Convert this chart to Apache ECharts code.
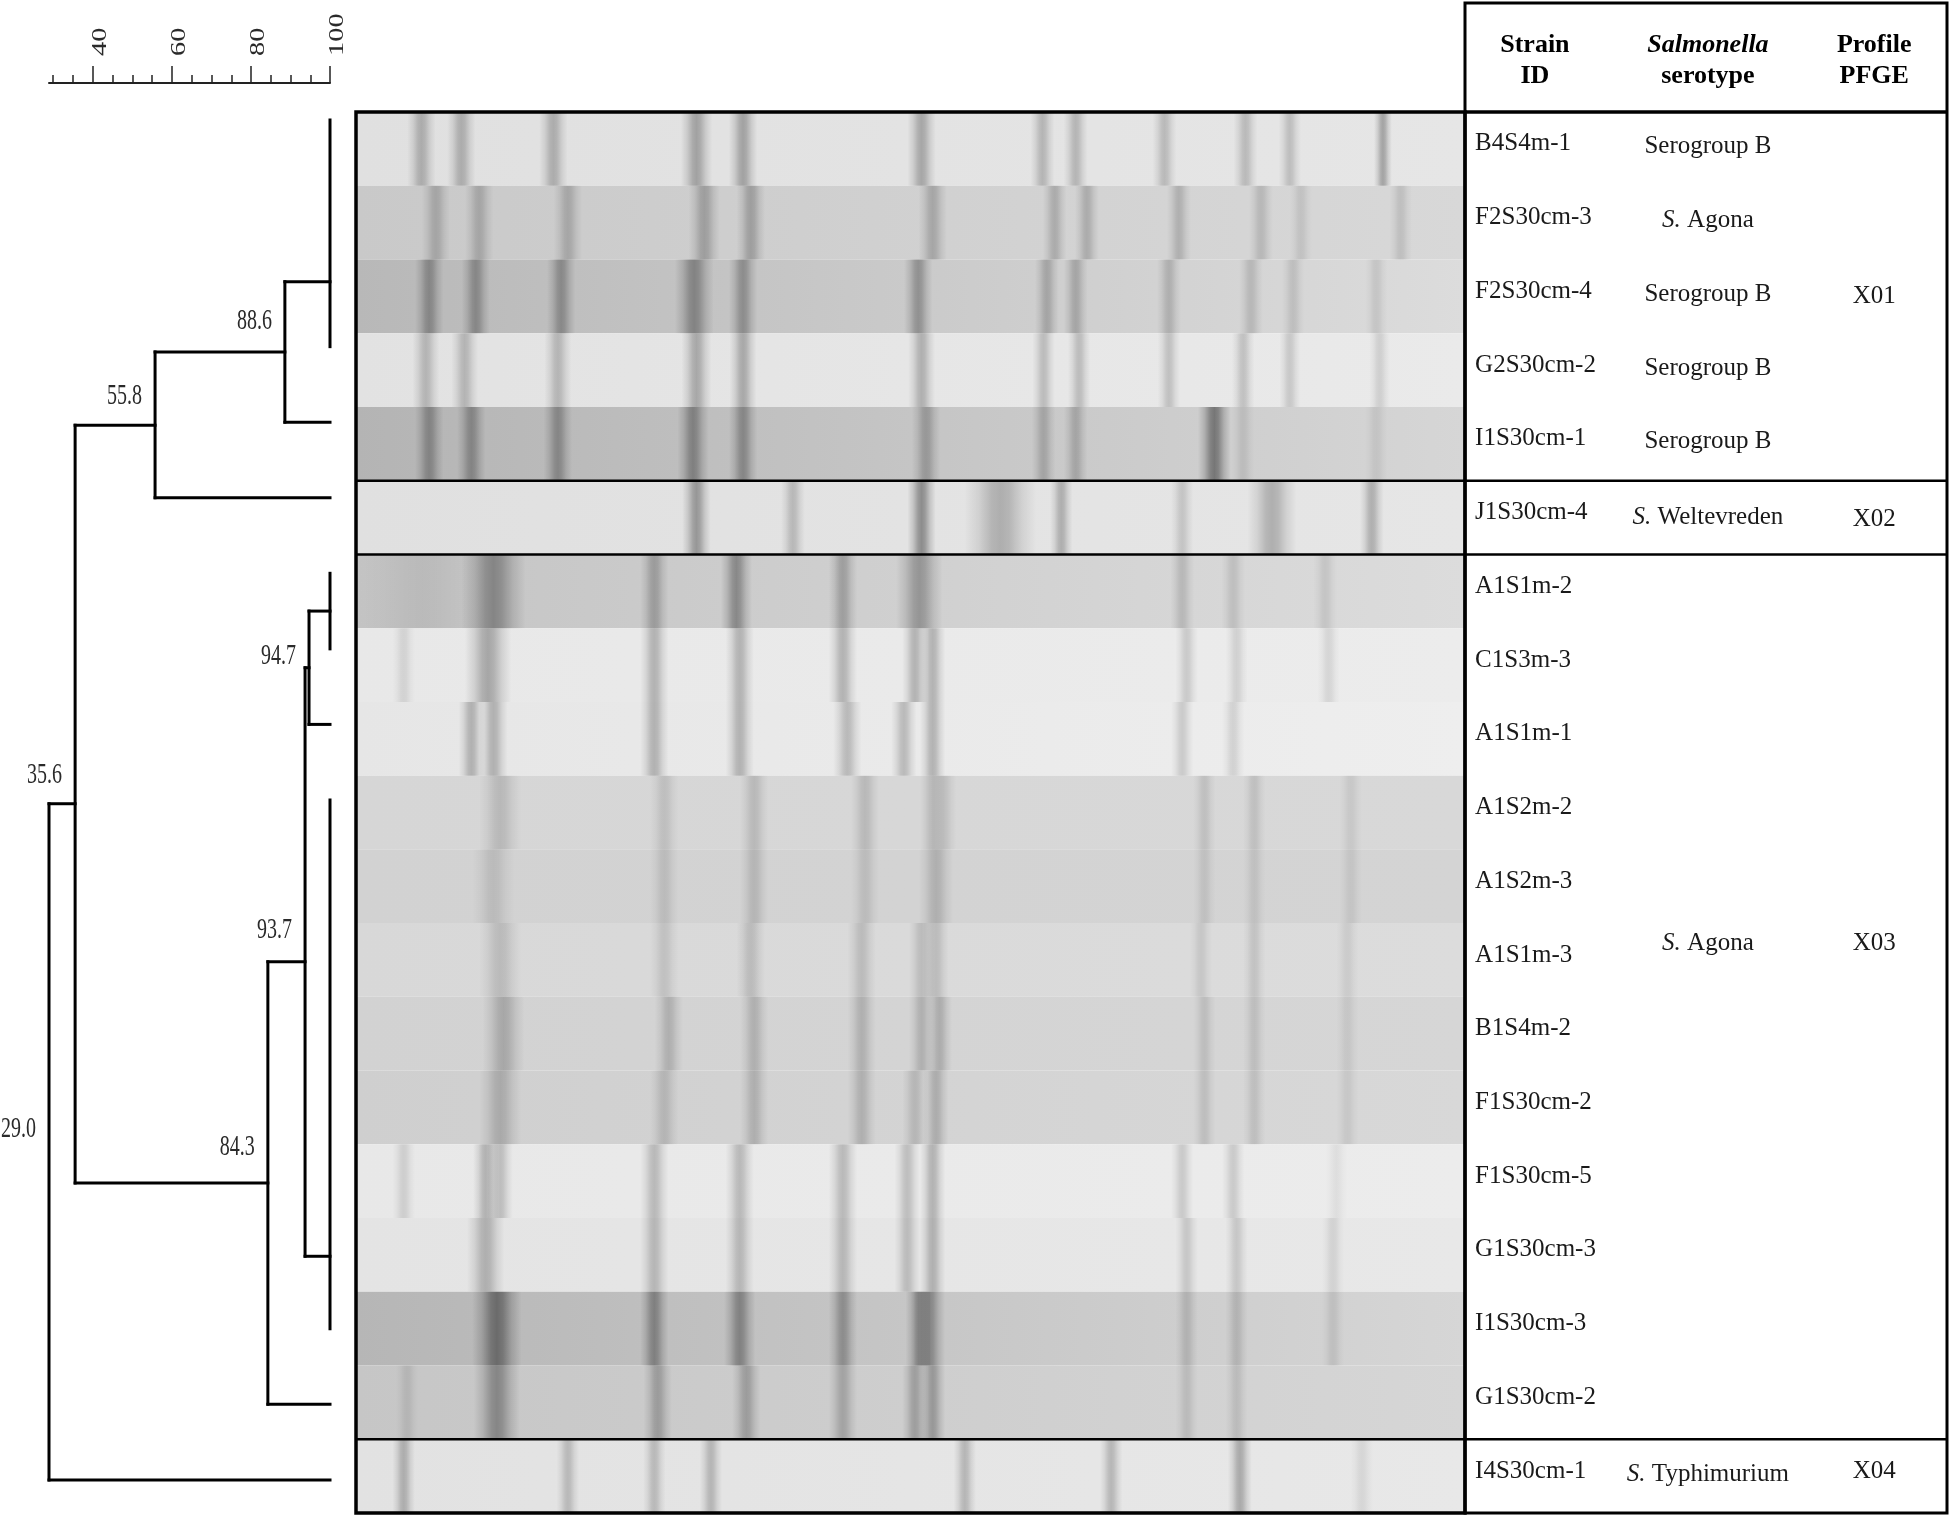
<!DOCTYPE html>
<html><head><meta charset="utf-8">
<script src="https://cdn.jsdelivr.net/npm/echarts@6/dist/echarts.min.js"></script>
<style>html,body{margin:0;padding:0;background:#fff}#c{width:1950px;height:1521px}</style>
</head><body><div id="c"></div>
<script>
// ---------------- DATA ----------------
const strainIds = ['B4S4m-1','F2S30cm-3','F2S30cm-4','G2S30cm-2','I1S30cm-1','J1S30cm-4',
  'A1S1m-2','C1S3m-3','A1S1m-1','A1S2m-2','A1S2m-3','A1S1m-3','B1S4m-2','F1S30cm-2',
  'F1S30cm-5','G1S30cm-3','I1S30cm-3','G1S30cm-2','I4S30cm-1'];

const serotypes   = ['Serogroup B','S. Agona','Serogroup B','Serogroup B','Serogroup B','S. Weltevreden','S. Agona','S. Typhimurium'];
const serotypeRow = [0, 1, 2, 3, 4, 5.02, 10.8, 18];

const profiles   = ['X01','X02','X03','X04'];
const profileRow = [2.0, 5.02, 10.78, 17.93];

const headerTop    = ['Strain','Salmonella','Profile'];
const headerBottom = ['ID','serotype','PFGE'];

const groupBreaks = [4.5, 5.5, 17.5];

// similarity scale (%)
const scaleTicks = [40, 60, 80, 100];

// dendrogram: horizontal links [fromSim, toSim, leafPos], vertical links [sim, fromPos, toPos]
const dendroH = [
  [88.6,100,2.14],[88.6,100,4],[55.8,88.6,3.07],[55.8,100,5],[35.6,55.8,4.04],
  [94.7,100,6.5],[94.7,100,8],[93.7,94.7,7.25],[93.7,100,15.04],[84.3,93.7,11.14],
  [84.3,100,17],[35.6,84.3,14.07],[29.0,35.6,9.05],[29.0,100,18]
];
const dendroV = [
  [100,0,3],[88.6,2.14,4],[55.8,3.07,5],[35.6,4.04,14.07],
  [100,6,7],[94.7,6.5,8],[100,9,16],[93.7,7.25,15.04],[84.3,11.14,17],[29.0,9.05,18]
];
// node similarity labels [similarity, label row position]
const nodeLabels = [[88.6,2.86],[55.8,3.86],[35.6,8.87],[29.0,13.55],[94.7,7.29],[93.7,10.92],[84.3,13.8]];

// gel lane background grey level (left edge, right edge)
const laneShadeL = [224,201,184,226,180,224,196,232,230,214,210,216,210,207,232,228,182,198,226];
const laneShadeR = [230,216,220,234,214,230,220,236,238,216,212,220,214,216,236,232,214,214,232];

// gel bands per lane: [position % of run, darkness, width %]
const laneBands = [
  [[5.9,.25,1.9],[9.5,.25,1.9],[17.8,.25,1.9],[30.7,.3,2.1],[34.9,.3,1.9],[51.0,.28,1.9],[61.9,.22,1.6],[64.9,.22,1.6],[72.9,.2,1.6],[80.2,.2,1.6],[84.2,.18,1.5],[92.6,.3,1.2]],
  [[7.2,.2,1.9],[11.1,.2,1.9],[19.1,.2,1.9],[31.4,.25,2.1],[35.6,.25,1.9],[52.0,.22,1.9],[63.0,.2,1.6],[65.9,.2,1.6],[74.2,.18,1.6],[81.6,.15,1.6],[85.2,.1,1.5],[94.2,.12,1.5]],
  [[6.6,.3,1.9],[10.8,.3,1.9],[18.5,.3,1.9],[30.5,.35,2.6],[34.9,.3,1.9],[50.7,.3,1.9],[62.3,.22,1.6],[64.9,.22,1.6],[73.3,.18,1.6],[80.7,.15,1.6],[84.5,.12,1.5],[92.0,.1,1.5]],
  [[6.3,.22,1.8],[9.8,.22,1.8],[18.2,.22,1.8],[30.7,.28,2.0],[34.9,.28,1.8],[51.0,.25,1.8],[62.0,.2,1.5],[65.2,.2,1.5],[73.3,.18,1.5],[80.0,.18,1.5],[84.2,.15,1.4],[92.3,.12,1.4]],
  [[6.6,.3,1.9],[10.4,.3,1.9],[18.2,.3,1.9],[30.4,.35,2.1],[34.9,.32,1.9],[51.4,.25,1.9],[62.0,.2,1.6],[64.9,.2,1.6],[77.4,.45,2.2],[80.0,.1,1.5],[92.0,.08,1.5]],
  [[30.7,.35,1.9],[39.4,.2,1.6],[51.0,.4,1.9],[58.1,.25,4.8],[63.6,.25,1.5],[74.5,.15,1.5],[82.6,.25,3.3],[91.6,.25,1.6]],
  [[6.0,.06,9],[12.4,.35,4.3],[26.9,.25,1.9],[34.3,.35,2.1],[43.9,.25,1.9],[50.8,.3,3.1],[74.5,.15,1.6],[79.1,.12,1.6],[87.4,.1,1.6]],
  [[4.3,.1,1.5],[11.9,.3,3.1],[26.9,.25,1.9],[34.6,.25,1.9],[43.9,.25,1.9],[50.4,.25,1.7],[52.0,.25,1.7],[74.9,.15,1.5],[79.4,.12,1.5],[87.7,.1,1.5]],
  [[10.4,.25,1.7],[12.4,.25,1.9],[26.9,.25,1.9],[34.6,.25,1.9],[44.3,.22,1.9],[49.4,.22,1.7],[52.0,.25,1.7],[74.5,.15,1.5],[79.1,.12,1.5]],
  [[13.0,.15,2.8],[27.8,.12,1.9],[35.9,.15,1.9],[45.9,.15,1.9],[52.0,.15,1.7],[53.0,.12,1.7],[76.5,.12,1.5],[81.0,.12,1.5],[89.7,.08,1.5]],
  [[12.4,.12,2.8],[27.8,.12,1.9],[35.9,.15,1.9],[45.9,.12,1.9],[52.3,.18,2.3],[76.5,.1,1.5],[81.0,.1,1.5],[89.7,.08,1.5]],
  [[13.0,.15,2.8],[27.8,.12,1.9],[35.6,.15,1.9],[45.6,.15,1.9],[51.0,.15,1.7],[52.3,.15,1.7],[76.2,.1,1.5],[81.0,.12,1.5],[89.4,.08,1.5]],
  [[13.3,.22,2.8],[28.2,.18,1.9],[35.9,.18,1.9],[45.6,.18,1.9],[51.0,.18,1.7],[52.6,.2,1.7],[76.5,.12,1.5],[81.0,.12,1.5],[89.4,.08,1.5]],
  [[13.0,.2,2.8],[27.8,.15,1.9],[35.9,.18,1.9],[45.6,.18,1.9],[50.4,.15,1.7],[52.3,.2,1.7],[76.5,.12,1.5],[81.0,.12,1.5],[89.4,.08,1.5]],
  [[4.3,.12,1.5],[11.7,.25,1.7],[13.0,.2,1.7],[26.9,.22,1.9],[34.6,.22,1.9],[43.9,.22,1.9],[49.7,.2,1.7],[52.0,.25,1.7],[74.5,.15,1.5],[79.1,.15,1.5],[88.4,.06,1.5]],
  [[11.7,.25,2.5],[26.9,.22,1.9],[34.6,.22,1.9],[43.9,.22,1.9],[49.7,.2,1.7],[52.0,.25,1.7],[74.9,.15,1.5],[79.4,.15,1.5],[88.1,.1,1.5]],
  [[12.7,.45,3.3],[26.9,.35,1.9],[34.6,.35,2.1],[43.9,.3,1.9],[50.7,.3,1.7],[51.7,.35,2.1],[74.9,.15,1.5],[79.4,.15,1.5],[88.1,.1,1.5]],
  [[4.6,.1,1.5],[12.7,.35,3.1],[27.2,.25,1.9],[35.2,.25,1.9],[43.9,.22,1.9],[50.4,.25,1.7],[52.0,.28,1.7],[74.9,.12,1.5],[79.4,.12,1.5]],
  [[4.3,.25,1.5],[19.1,.2,1.5],[26.9,.2,1.5],[32.0,.22,1.5],[54.9,.22,1.5],[68.1,.22,1.5],[79.7,.28,1.6],[90.7,.08,1.5]]
];

// ---------------- CHART ----------------
const SERIF = '"Liberation Serif","Times New Roman",serif';
const chart = echarts.init(document.getElementById('c'), null, {renderer:'canvas'});

const segData = dendroH.map(h => [h[0], h[2], h[1], h[2]])
  .concat(dendroV.map(v => [v[0], v[1], v[0], v[2]]));

const bandData = [];
laneBands.forEach((bands, lane) => bands.forEach(b => bandData.push([b[0], lane, b[1], b[2]])));

function grey(v){ return 'rgb(' + v + ',' + v + ',' + v + ')'; }
function richify(s){ return s.indexOf('S. ') === 0 ? '{it|S.}' + s.slice(2) : s; }
function blk(a){ return 'rgba(0,0,0,' + a.toFixed(3) + ')'; }

const bodyFont = {fontSize:25, fontFamily:SERIF, fill:'#1a1a1a'};

const option = {
  backgroundColor:'#ffffff',
  animation:false,
  grid:[
    {left:49, top:83, width:281, height:1430},
    {left:53.2, top:83, width:277, height:10},
    {left:92.8, top:83, width:237.4, height:10},
    {left:356, top:112, width:1109, height:1401},
    {left:1465, top:3, width:482, height:1510}
  ],
  xAxis:[
    {gridIndex:0, type:'value', min:29, max:100, position:'top',
     axisLine:{show:true, onZero:false, lineStyle:{color:'#222', width:2}}, axisTick:{show:false}, axisLabel:{show:false}, splitLine:{show:false}},
    {gridIndex:1, type:'value', min:30, max:100, interval:5, position:'top',
     axisLine:{show:false, onZero:false}, axisTick:{show:true, length:8, lineStyle:{color:'#222', width:1.5}}, axisLabel:{show:false}, splitLine:{show:false}},
    {gridIndex:2, type:'value', min:40, max:100, interval:20, position:'top',
     axisLine:{show:false, onZero:false}, axisTick:{show:true, length:17, lineStyle:{color:'#222', width:1.5}}, axisLabel:{show:false}, splitLine:{show:false}},
    {gridIndex:3, type:'value', min:0, max:100, show:false},
    {gridIndex:4, type:'value', min:0, max:100, show:false}
  ],
  yAxis:[
    {gridIndex:0, type:'value', min:-0.4897, max:18.438, inverse:true, show:false},
    {gridIndex:1, type:'value', min:0, max:1, show:false},
    {gridIndex:2, type:'value', min:0, max:1, show:false},
    {gridIndex:3, type:'value', min:-0.5, max:18.5, inverse:true, show:false},
    {gridIndex:4, type:'value', min:-1.978, max:18.5, inverse:true, show:false}
  ],
  series:[
    // dendrogram links
    {type:'custom', xAxisIndex:0, yAxisIndex:0, silent:true, data:segData, encode:{x:[0,2], y:[1,3]},
     renderItem:function(params, api){
       const p1 = api.coord([api.value(0), api.value(1)]);
       const p2 = api.coord([api.value(2), api.value(3)]);
       return {type:'line', shape:{x1:p1[0], y1:p1[1], x2:p2[0], y2:p2[1]},
               style:{stroke:'#000', lineWidth:3, lineCap:'square'}};
     }},
    // node similarity labels
    {type:'custom', xAxisIndex:0, yAxisIndex:0, silent:true, data:nodeLabels, encode:{x:0, y:1},
     renderItem:function(params, api){
       const v = api.value(0);
       const p = api.coord([v, api.value(1)]);
       return {type:'text', x:p[0]-13, y:p[1], scaleY:1.5,
               style:{text:v.toFixed(1), fontSize:20, fontFamily:SERIF, fill:'#2a2a2a', align:'right', verticalAlign:'bottom'}};
     }},
    // scale labels
    {type:'custom', xAxisIndex:2, yAxisIndex:2, silent:true, data:scaleTicks.map(v => [v, 1]), encode:{x:0, y:1},
     renderItem:function(params, api){
       const v = api.value(0);
       const p = api.coord([v, 1]);
       return {type:'text', x:p[0]-2, y:p[1]-27, rotation:Math.PI/2, scaleX:1.42,
               style:{text:String(v), fontSize:20, fontFamily:SERIF, fill:'#2a2a2a', align:'left', verticalAlign:'top'}};
     }},
    // gel lanes background
    {type:'custom', xAxisIndex:3, yAxisIndex:3, silent:true, data:strainIds.map((s, i) => [0, i]), encode:{x:0, y:1},
     renderItem:function(params, api){
       const i = api.value(1);
       const a = api.coord([0, i-0.5]), b = api.coord([100, i+0.5]);
       return {type:'rect', shape:{x:a[0], y:a[1], width:b[0]-a[0], height:b[1]-a[1]},
               style:{fill:{type:'linear', x:0, y:0, x2:1, y2:0,
                      colorStops:[{offset:0, color:grey(laneShadeL[i])},{offset:1, color:grey(laneShadeR[i])}]}}};
     }},
    // gel bands (soft-edged)
    {type:'custom', xAxisIndex:3, yAxisIndex:3, silent:true, data:bandData, encode:{x:0, y:1},
     renderItem:function(params, api){
       const pos = api.value(0), lane = api.value(1), d = api.value(2) * 0.95, w = api.value(3) * 1.35;
       const a = api.coord([pos - w/2, lane-0.5]), b = api.coord([pos + w/2, lane+0.5]);
       return {type:'rect', shape:{x:a[0], y:a[1], width:b[0]-a[0], height:b[1]-a[1]},
               style:{fill:{type:'linear', x:0, y:0, x2:1, y2:0,
                      colorStops:[{offset:0, color:blk(0)},{offset:0.2, color:blk(d*0.35)},{offset:0.38, color:blk(d*0.85)},
                                  {offset:0.5, color:blk(d)},{offset:0.62, color:blk(d*0.85)},{offset:0.8, color:blk(d*0.35)},{offset:1, color:blk(0)}]}}};
     }},
    // gel group separators
    {type:'custom', xAxisIndex:3, yAxisIndex:3, silent:true, z:5, data:groupBreaks.map(b => [0, b]), encode:{x:0, y:1},
     renderItem:function(params, api){
       const a = api.coord([0, api.value(1)]), b = api.coord([100, api.value(1)]);
       return {type:'line', shape:{x1:a[0], y1:a[1], x2:b[0], y2:b[1]}, style:{stroke:'#000', lineWidth:2.5}};
     }},
    // gel frame
    {type:'custom', xAxisIndex:3, yAxisIndex:3, silent:true, z:6, data:[[0, -0.5]], encode:{x:0, y:1},
     renderItem:function(params, api){
       const a = api.coord([0, -0.5]), b = api.coord([100, 18.5]);
       return {type:'rect', shape:{x:a[0], y:a[1], width:b[0]-a[0], height:b[1]-a[1]},
               style:{fill:'none', stroke:'#000', lineWidth:3.5}};
     }},
    // strain IDs
    {type:'custom', xAxisIndex:4, yAxisIndex:4, silent:true, data:strainIds.map((s, i) => [0, i]), encode:{x:0, y:1},
     renderItem:function(params, api){
       const p = api.coord([2.1, api.value(1)]);
       return {type:'text', x:p[0], y:p[1]-5,
               style:Object.assign({text:strainIds[params.dataIndex], align:'left', verticalAlign:'middle'}, bodyFont)};
     }},
    // serotypes
    {type:'custom', xAxisIndex:4, yAxisIndex:4, silent:true, data:serotypeRow.map(r => [50, r]), encode:{x:0, y:1},
     renderItem:function(params, api){
       const p = api.coord([50.4, api.value(1)]);
       return {type:'text', x:p[0], y:p[1]-2,
               style:Object.assign({text:richify(serotypes[params.dataIndex]), align:'center', verticalAlign:'middle',
                 rich:{it:{fontStyle:'italic', fontSize:25, fontFamily:SERIF, fill:'#1a1a1a'}}}, bodyFont)};
     }},
    // PFGE profiles
    {type:'custom', xAxisIndex:4, yAxisIndex:4, silent:true, data:profileRow.map(r => [85, r]), encode:{x:0, y:1},
     renderItem:function(params, api){
       const p = api.coord([84.9, api.value(1)]);
       return {type:'text', x:p[0], y:p[1],
               style:Object.assign({text:profiles[params.dataIndex], align:'center', verticalAlign:'middle'}, bodyFont)};
     }},
    // header
    {type:'custom', xAxisIndex:4, yAxisIndex:4, silent:true, data:[[14.5, -1.19],[50.4, -1.19],[84.9, -1.19]], encode:{x:0, y:1},
     renderItem:function(params, api){
       const i = params.dataIndex;
       const p = api.coord([api.value(0), api.value(1)]);
       const top = i === 1 ? '{it|' + headerTop[i] + '}' : headerTop[i];
       return {type:'text', x:p[0], y:p[1],
               style:{text: top + '\n' + headerBottom[i], align:'center', verticalAlign:'middle', lineHeight:31,
                      fontSize:26, fontWeight:'bold', fontFamily:SERIF, fill:'#000',
                      rich:{it:{fontStyle:'italic', fontWeight:'bold', fontSize:26, fontFamily:SERIF, fill:'#000', lineHeight:31}}}};
     }},
    // table separators (header line + groups)
    {type:'custom', xAxisIndex:4, yAxisIndex:4, silent:true, z:5, data:[-0.5].concat(groupBreaks).map(b => [0, b]), encode:{x:0, y:1},
     renderItem:function(params, api){
       const a = api.coord([0, api.value(1)]), b = api.coord([100, api.value(1)]);
       return {type:'line', shape:{x1:a[0], y1:a[1], x2:b[0], y2:b[1]},
               style:{stroke:'#000', lineWidth: params.dataIndex === 0 ? 3.5 : 2.5}};
     }},
    // table frame
    {type:'custom', xAxisIndex:4, yAxisIndex:4, silent:true, z:6, data:[[0, -1.978]], encode:{x:0, y:1},
     renderItem:function(params, api){
       const a = api.coord([0, -1.978]), b = api.coord([100, 18.5]);
       return {type:'rect', shape:{x:a[0], y:a[1], width:b[0]-a[0], height:b[1]-a[1]},
               style:{fill:'none', stroke:'#000', lineWidth:3}};
     }}
  ]
};
chart.setOption(option);
</script>
</body></html>
